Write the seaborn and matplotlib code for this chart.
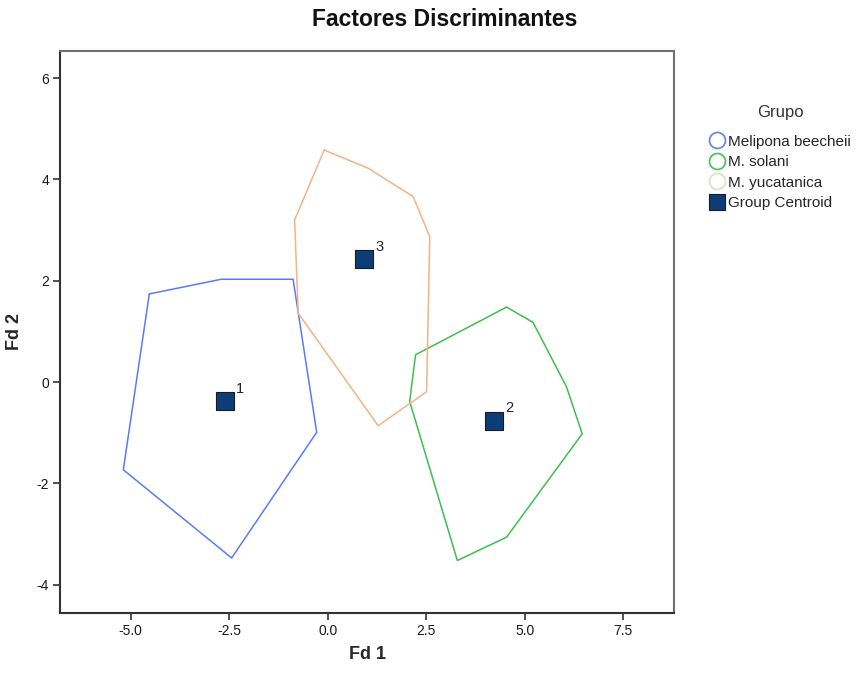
import matplotlib
matplotlib.use("Agg")
import matplotlib.pyplot as plt
from matplotlib.lines import Line2D
import seaborn as sns
import pandas as pd

# Group names and convex-hull vertices of each group's discriminant scores
groups = ["Melipona beecheii", "M. solani", "M. yucatanica"]

beecheii_fd1 = [-4.53, -2.70, -0.88, -0.28, -2.44, -5.19]
beecheii_fd2 = [1.74, 2.03, 2.03, -0.99, -3.47, -1.73]

solani_fd1 = [4.54, 5.21, 6.06, 6.46, 4.54, 3.29, 2.08, 2.23]
solani_fd2 = [1.48, 1.18, -0.09, -1.02, -3.06, -3.52, -0.38, 0.54]

yucatanica_fd1 = [-0.09, 1.03, 2.17, 2.59, 2.51, 1.28, -0.75, -0.84]
yucatanica_fd2 = [4.58, 4.22, 3.66, 2.87, -0.19, -0.86, 1.36, 3.20]

# Group centroids
centroid_labels = ["1", "2", "3"]
centroid_fd1 = [-2.61, 4.22, 0.92]
centroid_fd2 = [-0.37, -0.76, 2.42]

x_ticks = [-5.0, -2.5, 0.0, 2.5, 5.0, 7.5]
y_ticks = [-4, -2, 0, 2, 4, 6]

line_colors = {"Melipona beecheii": "#5b7cf0", "M. solani": "#3dbf50", "M. yucatanica": "#f2b386"}
legend_colors = {"Melipona beecheii": "#6f88dc", "M. solani": "#4cc460", "M. yucatanica": "#e6dfbf"}
centroid_color = "#0d3d78"

sns.set_theme(style="white")
plt.rcParams["font.family"] = ["Liberation Sans", "DejaVu Sans"]

hulls = []
for name, xs, ys in [("Melipona beecheii", beecheii_fd1, beecheii_fd2),
                     ("M. solani", solani_fd1, solani_fd2),
                     ("M. yucatanica", yucatanica_fd1, yucatanica_fd2)]:
    xs_closed = list(xs) + [xs[0]]
    ys_closed = list(ys) + [ys[0]]
    hulls.append(pd.DataFrame({"Fd1": xs_closed, "Fd2": ys_closed,
                               "Grupo": name, "order": range(len(xs_closed))}))
hull_df = pd.concat(hulls, ignore_index=True)

cent_df = pd.DataFrame({"Fd1": centroid_fd1, "Fd2": centroid_fd2, "label": centroid_labels})

fig = plt.figure(figsize=(8.6, 6.75), dpi=100)
ax = fig.add_axes([0.0701, 0.0923, 0.7136, 0.8326])

sns.lineplot(data=hull_df, x="Fd1", y="Fd2", hue="Grupo", units="Grupo",
             estimator=None, sort=False, palette=line_colors, linewidth=1.1,
             legend=False, ax=ax)

sns.scatterplot(data=cent_df, x="Fd1", y="Fd2", marker="s", s=150,
                color=centroid_color, edgecolor="#1a1a1a", linewidth=0.8,
                legend=False, ax=ax, zorder=5)

for _, row in cent_df.iterrows():
    ax.annotate(row["label"], (row["Fd1"], row["Fd2"]), xytext=(8, 6),
                textcoords="offset points", fontsize=10.5, color="#222222")

ax.set_xlim(-6.79, 8.79)
ax.set_ylim(-4.55, 6.54)
ax.set_xticks(x_ticks)
ax.set_xticklabels([f"{t:.1f}" for t in x_ticks])
ax.set_yticks(y_ticks)
ax.set_yticklabels([str(t) for t in y_ticks])
ax.tick_params(axis="both", direction="out", length=5, width=1.2,
               color="#333333", labelsize=10, labelcolor="#1a1a1a", pad=3,
               bottom=True, left=True)

for side in ["left", "bottom"]:
    ax.spines[side].set_color("#333333")
    ax.spines[side].set_linewidth(1.5)
for side in ["top", "right"]:
    ax.spines[side].set_color("#707070")
    ax.spines[side].set_linewidth(1.5)

ax.set_xlabel("Fd 1", fontsize=13, fontweight="bold", labelpad=6)
ax.set_ylabel("Fd 2", fontsize=13, fontweight="bold", labelpad=10)

fig.text(445 / 860, 1 - 19 / 675, "Factores Discriminantes", ha="center",
         va="center", fontsize=16.5, fontweight="bold", color="#111111")

# Legend with its heading placed separately above the entries
fig.text(780 / 860, 1 - 112 / 675, "Grupo", ha="center", va="center",
         fontsize=12, color="#333333")

handles = [Line2D([], [], marker="o", linestyle="none", markersize=11.5,
                  markerfacecolor="white", markeredgecolor=legend_colors[g],
                  markeredgewidth=1.3, label=g) for g in groups]
handles.append(Line2D([], [], marker="s", linestyle="none", markersize=12,
                      markerfacecolor=centroid_color, markeredgecolor="#1a1a1a",
                      markeredgewidth=0.8, label="Group Centroid"))
fig.legend(handles=handles, loc="upper left",
           bbox_to_anchor=(699 / 860, 1 - 124 / 675), frameon=False,
           fontsize=11, handletextpad=0.2,
           handlelength=1.0, labelspacing=0.42, borderpad=0.2)

fig.savefig("out.png", dpi=100)
